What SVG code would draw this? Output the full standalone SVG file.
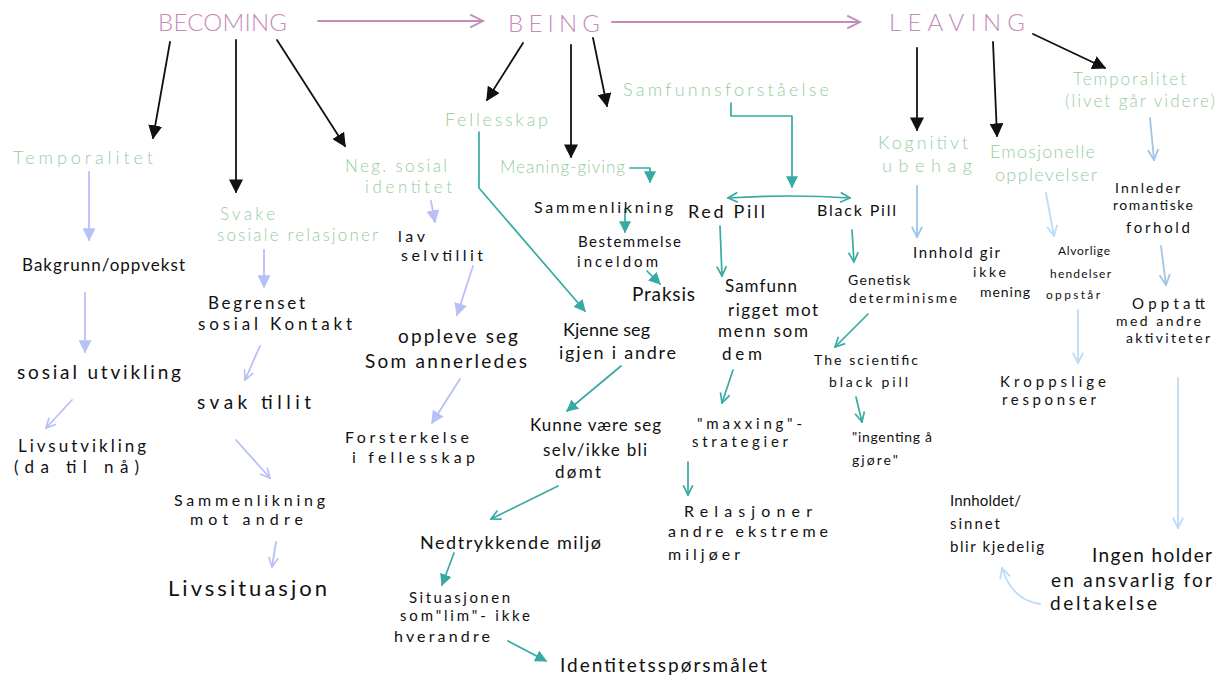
<svg xmlns="http://www.w3.org/2000/svg" width="1224" height="677" viewBox="0 0 1224 677">
<style>
text{font-family:"Lato","Open Sans","Liberation Sans",sans-serif;font-weight:400}
.h{font-size:24px;fill:#c48bbb;font-weight:300}
.g{font-size:17px;fill:#95cc9f;font-weight:300}
.k{fill:#111}
.s12{font-size:12px}.s14{font-size:14px}.s15{font-size:15px}.s16{font-size:16px}.s17{font-size:17px}.s18{font-size:18px}.s19{font-size:19px}.s22{font-size:22px}
.c{fill:none;stroke-width:1.6;stroke-linecap:round;stroke-linejoin:round}
.bk{stroke:#111;stroke-width:1.8}
.lv{stroke:#b9bff7;stroke-width:1.8}
.tl{stroke:#36aaa3;stroke-width:1.7}
.bd{stroke:#9fc5e8;stroke-width:1.8}
.bl{stroke:#bcdcf8;stroke-width:1.8}
.pk{stroke:#c48bbb;stroke-width:1.8}
</style>
<defs>
<marker id="ab" viewBox="0 0 10 10" refX="9" refY="5" markerWidth="14" markerHeight="14" markerUnits="userSpaceOnUse" orient="auto"><path d="M0,0 L10,5 L0,10 z" fill="#111"/></marker>
<marker id="al" viewBox="0 0 10 10" refX="9" refY="5" markerWidth="13" markerHeight="13" markerUnits="userSpaceOnUse" orient="auto"><path d="M0,0 L10,5 L0,10 z" fill="#b9bff7"/></marker>
<marker id="alo" viewBox="0 0 10 10" refX="9" refY="5" markerWidth="12" markerHeight="12" markerUnits="userSpaceOnUse" orient="auto"><path d="M1,1 L9,5 L1,9" fill="none" stroke="#b9bff7" stroke-width="1.4"/></marker>
<marker id="at" viewBox="0 0 10 10" refX="9" refY="5" markerWidth="12" markerHeight="12" markerUnits="userSpaceOnUse" orient="auto"><path d="M0,0 L10,5 L0,10 z" fill="#36aaa3"/></marker>
<marker id="ato" viewBox="0 0 10 10" refX="9" refY="5" markerWidth="12" markerHeight="12" markerUnits="userSpaceOnUse" orient="auto-start-reverse"><path d="M1,1 L9,5 L1,9" fill="none" stroke="#36aaa3" stroke-width="1.4"/></marker>
<marker id="abo" viewBox="0 0 10 10" refX="9" refY="5" markerWidth="13" markerHeight="13" markerUnits="userSpaceOnUse" orient="auto"><path d="M1,1 L9,5 L1,9" fill="none" stroke="#9fc5e8" stroke-width="1.4"/></marker>
<marker id="abl" viewBox="0 0 10 10" refX="9" refY="5" markerWidth="13" markerHeight="13" markerUnits="userSpaceOnUse" orient="auto"><path d="M1,1 L9,5 L1,9" fill="none" stroke="#bcdcf8" stroke-width="1.4"/></marker>
<marker id="ap" viewBox="0 0 10 10" refX="9" refY="5" markerWidth="16" markerHeight="16" markerUnits="userSpaceOnUse" orient="auto"><path d="M1,1 L9,5 L1,9" fill="none" stroke="#c48bbb" stroke-width="1.2"/></marker>
</defs>
<rect width="1224" height="677" fill="#ffffff"/>

<g id="connectors">
<path class="c pk" d="M318,21 L483,21" marker-end="url(#ap)"/>
<path class="c pk" d="M612,22 L860,22" marker-end="url(#ap)"/>
<path class="c bk" d="M170,42 L153,138" marker-end="url(#ab)"/>
<path class="c bk" d="M236,40 L236,192" marker-end="url(#ab)"/>
<path class="c bk" d="M277,40 L345,146" marker-end="url(#ab)"/>
<path class="c bk" d="M523,43 L487,100" marker-end="url(#ab)"/>
<path class="c bk" d="M571,45 L571,157" marker-end="url(#ab)"/>
<path class="c bk" d="M593,38 L607,106" marker-end="url(#ab)"/>
<path class="c bk" d="M917,48 L917,130" marker-end="url(#ab)"/>
<path class="c bk" d="M993,42 L997,136" marker-end="url(#ab)"/>
<path class="c bk" d="M1033,34 L1105,68" marker-end="url(#ab)"/>
<path class="c lv" d="M89,172 L89,240" marker-end="url(#al)"/>
<path class="c lv" d="M85,293 L85,352" marker-end="url(#al)"/>
<path class="c lv" d="M72,400 L46,428" marker-end="url(#alo)"/>
<path class="c lv" d="M264,250 L264,287" marker-end="url(#al)"/>
<path class="c lv" d="M260,346 L245,380" marker-end="url(#alo)"/>
<path class="c lv" d="M236,440 L270,478" marker-end="url(#alo)"/>
<path class="c lv" d="M276,542 L272,567" marker-end="url(#alo)"/>
<path class="c lv" d="M431,201 L435,222" marker-end="url(#al)"/>
<path class="c lv" d="M473,266 L457,315" marker-end="url(#al)"/>
<path class="c lv" d="M460,379 L432,423" marker-end="url(#al)"/>
<path class="c tl" d="M479,132 L479,188 L585,311" marker-end="url(#at)"/>
<path class="c tl" d="M630,168 L650,168 L650,182" marker-end="url(#at)"/>
<path class="c tl" d="M625,209 L625,232" marker-end="url(#at)"/>
<path class="c tl" d="M647,271 L660,284" marker-end="url(#at)"/>
<path class="c tl" d="M731,103 L731,116 L792,116 L792,187" marker-end="url(#at)"/>
<path class="c tl" d="M728,198 Q790,194 850,198" marker-start="url(#ato)" marker-end="url(#ato)"/>
<path class="c tl" d="M720,226 L722,276" marker-end="url(#ato)"/>
<path class="c tl" d="M852,230 L854,262" marker-end="url(#ato)"/>
<path class="c tl" d="M621,366 L567,411" marker-end="url(#at)"/>
<path class="c tl" d="M733,370 L722,403" marker-end="url(#ato)"/>
<path class="c tl" d="M868,314 L835,347" marker-end="url(#ato)"/>
<path class="c tl" d="M856,397 L862,422" marker-end="url(#ato)"/>
<path class="c tl" d="M688,462 L688,495" marker-end="url(#ato)"/>
<path class="c tl" d="M558,486 L491,519" marker-end="url(#ato)"/>
<path class="c tl" d="M454,553 L442,585" marker-end="url(#at)"/>
<path class="c tl" d="M508,641 L546,661" marker-end="url(#at)"/>
<path class="c bd" d="M917,186 L917,237" marker-end="url(#abo)"/>
<path class="c bl" d="M1046,193 L1054,236" marker-end="url(#abl)"/>
<path class="c bd" d="M1150,118 L1154,160" marker-end="url(#abo)"/>
<path class="c bd" d="M1161,246 L1166,285" marker-end="url(#abo)"/>
<path class="c bl" d="M1078,310 L1078,363" marker-end="url(#abl)"/>
<path class="c bl" d="M1178,378 L1178,528" marker-end="url(#abl)"/>
<path class="c bl" d="M1040,604 Q1012,600 1002,568" marker-end="url(#abl)"/>
</g>

<g id="n-becoming"><text class="h" x="158" y="31" textLength="129" lengthAdjust="spacing">BECOMING</text></g>
<g id="n-being"><text class="h" x="508" y="32" textLength="92" lengthAdjust="spacing">BEING</text></g>
<g id="n-leaving"><text class="h" x="889" y="31" textLength="136" lengthAdjust="spacing">LEAVING</text></g>

<g id="n-temporalitet1"><text class="g" x="13" y="164" textLength="140" lengthAdjust="spacing" style="font-size:18px">Temporalitet</text></g>
<g id="n-svake"><text class="g" x="220" y="220" textLength="55" lengthAdjust="spacing">Svake</text><text class="g" x="217" y="241" textLength="161" lengthAdjust="spacing">sosiale relasjoner</text></g>
<g id="n-neg"><text class="g" x="345" y="172" textLength="102" lengthAdjust="spacing">Neg. sosial</text><text class="g" x="365" y="193" textLength="87" lengthAdjust="spacing">identitet</text></g>
<g id="n-fellesskap"><text class="g" x="445" y="126" textLength="103" lengthAdjust="spacing" style="font-size:18px">Fellesskap</text></g>
<g id="n-meaning"><text class="g" x="500" y="173" textLength="125" lengthAdjust="spacing">Meaning-giving</text></g>
<g id="n-samfunnsforstaelse"><text class="g" x="623" y="96" textLength="206" lengthAdjust="spacing" style="font-size:18px">Samfunnsforståelse</text></g>
<g id="n-kognitivt"><text class="g" x="878" y="149" textLength="90" lengthAdjust="spacing" style="font-size:18px">Kognitivt</text><text class="g" x="882" y="172" textLength="90" lengthAdjust="spacing" style="font-size:18px">ubehag</text></g>
<g id="n-emosjonelle"><text class="g" x="990" y="158" textLength="105" lengthAdjust="spacing" style="font-size:18px">Emosjonelle</text><text class="g" x="995" y="181" textLength="102" lengthAdjust="spacing" style="font-size:18px">opplevelser</text></g>
<g id="n-temporalitet2"><text class="g" x="1073" y="85" textLength="113" lengthAdjust="spacing">Temporalitet</text><text class="g" x="1065" y="107" textLength="150" lengthAdjust="spacing">(livet går videre)</text></g>

<g id="n-bakgrunn"><text class="k s17" x="22" y="271" textLength="163" lengthAdjust="spacing">Bakgrunn/oppvekst</text></g>
<g id="n-sosialutvikling"><text class="k s19" x="17" y="379" textLength="164" lengthAdjust="spacing">sosial utvikling</text></g>
<g id="n-livsutvikling"><text class="k s17" x="18" y="452" textLength="128" lengthAdjust="spacing">Livsutvikling</text><text class="k s17" x="14" y="473" textLength="125" lengthAdjust="spacing">(da til nå)</text></g>
<g id="n-begrenset"><text class="k s17" x="208" y="309" textLength="97" lengthAdjust="spacing">Begrenset</text><text class="k s17" x="198" y="330" textLength="154" lengthAdjust="spacing">sosial Kontakt</text></g>
<g id="n-svaktillit"><text class="k s19" x="197" y="409" textLength="114" lengthAdjust="spacing">svak tillit</text></g>
<g id="n-sammenlikning1"><text class="k s16" x="174" y="506" textLength="151" lengthAdjust="spacing">Sammenlikning</text><text class="k s16" x="190" y="525" textLength="113" lengthAdjust="spacing">mot andre</text></g>
<g id="n-livssituasjon"><text class="k s22" x="168" y="596" textLength="159" lengthAdjust="spacing">Livssituasjon</text></g>
<g id="n-lav"><text class="k s16" x="398" y="242" textLength="27" lengthAdjust="spacing">lav</text><text class="k s16" x="401" y="261" textLength="82" lengthAdjust="spacing">selvtillit</text></g>
<g id="n-oppleve"><text class="k s19" x="398" y="343" textLength="120" lengthAdjust="spacing">oppleve seg</text><text class="k s19" x="365" y="368" textLength="162" lengthAdjust="spacing">Som annerledes</text></g>
<g id="n-forsterkelse"><text class="k s16" x="345" y="443" textLength="124" lengthAdjust="spacing">Forsterkelse</text><text class="k s16" x="352" y="463" textLength="123" lengthAdjust="spacing">i fellesskap</text></g>
<g id="n-sammenlikning2"><text class="k s16" x="534" y="213" textLength="139" lengthAdjust="spacing">Sammenlikning</text></g>
<g id="n-bestemmelse"><text class="k s15" x="578" y="247" textLength="103" lengthAdjust="spacing">Bestemmelse</text><text class="k s15" x="577" y="267" textLength="81" lengthAdjust="spacing">inceldom</text></g>
<g id="n-praksis"><text class="k s19" x="632" y="301" textLength="63" lengthAdjust="spacing">Praksis</text></g>
<g id="n-kjenne"><text class="k s18" x="563" y="336" textLength="87" lengthAdjust="spacing">Kjenne seg</text><text class="k s18" x="559" y="359" textLength="117" lengthAdjust="spacing">igjen i andre</text></g>
<g id="n-kunne"><text class="k s17" x="530" y="431" textLength="131" lengthAdjust="spacing">Kunne være seg</text><text class="k s17" x="543" y="456" textLength="104" lengthAdjust="spacing">selv/ikke bli</text><text class="k s17" x="555" y="478" textLength="46" lengthAdjust="spacing">dømt</text></g>
<g id="n-nedtrykkende"><text class="k s18" x="420" y="549" textLength="181" lengthAdjust="spacing">Nedtrykkende miljø</text></g>
<g id="n-situasjonen"><text class="k s15" x="409" y="603" textLength="101" lengthAdjust="spacing">Situasjonen</text><text class="k s15" x="400" y="621" textLength="130" lengthAdjust="spacing">som"lim"- ikke</text><text class="k s16" x="394" y="642" textLength="96" lengthAdjust="spacing">hverandre</text></g>
<g id="n-identitet"><text class="k s19" x="560" y="672" textLength="207" lengthAdjust="spacing">Identitetsspørsmålet</text></g>
<g id="n-redpill"><text class="k s18" x="688" y="218" textLength="77" lengthAdjust="spacing">Red Pill</text></g>
<g id="n-blackpill"><text class="k s16" x="817" y="216" textLength="79" lengthAdjust="spacing">Black Pill</text></g>
<g id="n-samfunn"><text class="k s17" x="725" y="292" textLength="72" lengthAdjust="spacing">Samfunn</text><text class="k s17" x="728" y="316" textLength="90" lengthAdjust="spacing">rigget mot</text><text class="k s17" x="718" y="337" textLength="90" lengthAdjust="spacing">menn som</text><text class="k s17" x="722" y="360" textLength="40" lengthAdjust="spacing">dem</text></g>
<g id="n-maxxing"><text class="k s15" x="697" y="429" textLength="105" lengthAdjust="spacing">"maxxing"-</text><text class="k s15" x="692" y="447" textLength="96" lengthAdjust="spacing">strategier</text></g>
<g id="n-relasjoner"><text class="k s16" x="684" y="517" textLength="128" lengthAdjust="spacing">Relasjoner</text><text class="k s16" x="668" y="537" textLength="160" lengthAdjust="spacing">andre ekstreme</text><text class="k s16" x="668" y="560" textLength="72" lengthAdjust="spacing">miljøer</text></g>
<g id="n-genetisk"><text class="k s14" x="848" y="285" textLength="62" lengthAdjust="spacing">Genetisk</text><text class="k s14" x="849" y="303" textLength="108" lengthAdjust="spacing">determinisme</text></g>
<g id="n-scientific"><text class="k s14" x="814" y="365" textLength="104" lengthAdjust="spacing">The scientific</text><text class="k s14" x="829" y="387" textLength="79" lengthAdjust="spacing">black pill</text></g>
<g id="n-ingenting"><text class="k s14" x="852" y="442" textLength="80" lengthAdjust="spacing">"ingenting å</text><text class="k s14" x="852" y="465" textLength="46" lengthAdjust="spacing">gjøre"</text></g>
<g id="n-innhold"><text class="k s15" x="913" y="258" textLength="87" lengthAdjust="spacing">Innhold gir</text><text class="k s14" x="973" y="277" textLength="33" lengthAdjust="spacing">ikke</text><text class="k s14" x="980" y="297" textLength="50" lengthAdjust="spacing">mening</text></g>
<g id="n-alvorlige"><text class="k s12" x="1058" y="255" textLength="52" lengthAdjust="spacing">Alvorlige</text><text class="k s12" x="1050" y="278" textLength="61" lengthAdjust="spacing">hendelser</text><text class="k s12" x="1046" y="299" textLength="54" lengthAdjust="spacing">oppstår</text></g>
<g id="n-kroppslige"><text class="k s15" x="1000" y="387" textLength="106" lengthAdjust="spacing">Kroppslige</text><text class="k s15" x="1002" y="405" textLength="94" lengthAdjust="spacing">responser</text></g>
<g id="n-innleder"><text class="k s14" x="1115" y="193" textLength="65" lengthAdjust="spacing">Innleder</text><text class="k s14" x="1113" y="210" textLength="80" lengthAdjust="spacing">romantiske</text><text class="k s15" x="1126" y="233" textLength="64" lengthAdjust="spacing">forhold</text></g>
<g id="n-opptatt"><text class="k s15" x="1132" y="309" textLength="73" lengthAdjust="spacing">Opptatt</text><text class="k s14" x="1116" y="326" textLength="85" lengthAdjust="spacing">med andre</text><text class="k s14" x="1126" y="343" textLength="84" lengthAdjust="spacing">aktiviteter</text></g>
<g id="n-innholdet"><text class="k s15" x="950" y="506" textLength="71" lengthAdjust="spacing">Innholdet/</text><text class="k s15" x="950" y="529" textLength="50" lengthAdjust="spacing">sinnet</text><text class="k s15" x="950" y="552" textLength="94" lengthAdjust="spacing">blir kjedelig</text></g>
<g id="n-ingen"><text class="k s19" x="1092" y="562" textLength="120" lengthAdjust="spacing">Ingen holder</text><text class="k s19" x="1051" y="587" textLength="161" lengthAdjust="spacing">en ansvarlig for</text><text class="k s19" x="1050" y="610" textLength="107" lengthAdjust="spacing">deltakelse</text></g>
</svg>
